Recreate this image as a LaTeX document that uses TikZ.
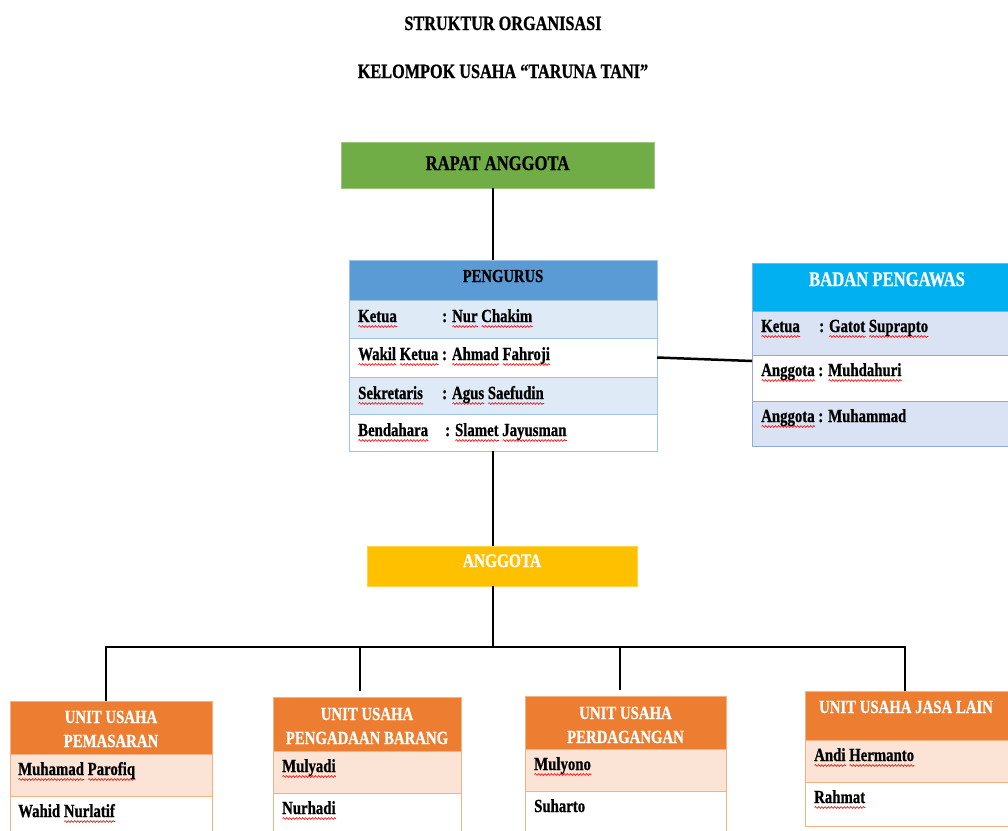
\documentclass[tikz,border=0pt]{standalone}
\usepackage{fontspec}
\setmainfont{Liberation Serif}[FakeStretch=0.8, BoldFeatures={FakeBold=0.8}]
\usetikzlibrary{calc,decorations.pathmorphing}
\definecolor{rapatc}{HTML}{70AD47}
\definecolor{pghc}{HTML}{5B9BD5}
\definecolor{pglt}{HTML}{DEEBF7}
\definecolor{pgbd}{HTML}{9DC3E6}
\definecolor{bphc}{HTML}{00B0F0}
\definecolor{bplt}{HTML}{DAE3F3}
\definecolor{bpbd}{HTML}{8FAADC}
\definecolor{angc}{HTML}{FFC000}
\definecolor{unhc}{HTML}{ED7D31}
\definecolor{unlt}{HTML}{FBE4D5}
\definecolor{unbd}{HTML}{F4B183}
\newdimen\sqwd
\newcommand\sq[1]{\setbox0=\hbox{#1}\sqwd=\wd0\rlap{\tikz[baseline=0pt,x=1pt,y=1pt]\draw[red, line width=0.6pt, decorate, decoration={snake, amplitude=0.9pt, segment length=3.2pt}] (0pt,-4.5pt) -- (\sqwd,-4.5pt);}#1}
\begin{document}
\begin{tikzpicture}[x=1pt,y=-1pt,
  boxx/.style={draw, line width=1pt, inner sep=0pt, outer sep=0pt, anchor=north west},
  ttl/.style={font=\bfseries\fontsize{20.3}{24}\selectfont, inner sep=0pt, anchor=base},
  rtxt/.style={font=\bfseries\fontsize{18.5}{22}\selectfont, inner sep=0pt, anchor=base west},
  htxt/.style={font=\bfseries\fontsize{18.5}{24}\selectfont, inner sep=0pt, anchor=base, align=center},
  conn/.style={line width=2.5pt, black}]
\useasboundingbox (0,0) rectangle (1008,830);
\clip (0,0) rectangle (1008,830);
\fill[white] (0,0) rectangle (1008,830);

% titles
\node[ttl] (t1) at (503,30) {STRUKTUR ORGANISASI};
\node[ttl] (t2) at (503,78) {KELOMPOK USAHA “TARUNA TANI”};

% rapat anggota
\node[boxx, fill=rapatc, draw=rapatc!70!white, minimum width=313pt, minimum height=46pt] (rapat) at (341,142) {};
\node[ttl, font=\bfseries\fontsize{20.8}{24}\selectfont] (rapatt) at ($(rapat.north)+(0,28)$) {RAPAT ANGGOTA};

% pengurus
\begin{scope}[every node/.append style={draw=pgbd}]
\node[boxx, fill=pghc, minimum width=308pt, minimum height=40pt] (pgh) at (349,260) {};
\node[boxx, fill=pglt, minimum width=308pt, minimum height=38pt] (pg1) at (349,300) {};
\node[boxx, fill=white, minimum width=308pt, minimum height=39pt] (pg2) at (349,338) {};
\node[boxx, fill=pglt, minimum width=308pt, minimum height=37pt] (pg3) at (349,377) {};
\node[boxx, fill=white, minimum width=308pt, minimum height=37pt] (pg4) at (349,414) {};
\end{scope}
\node[ttl, font=\bfseries\fontsize{18.3}{24}\selectfont] (pght) at ($(pgh.north)+(0,22)$) {PENGURUS};
\node[rtxt] (pg1t) at ($(pg1.north west)+(9,22)$) {\makebox[84pt][l]{\sq{Ketua}}: \sq{Nur} \sq{Chakim}};
\node[rtxt] (pg2t) at ($(pg2.north west)+(9,22)$) {\sq{Wakil} \sq{Ketua} : \sq{Ahmad} \sq{Fahroji}};
\node[rtxt] (pg3t) at ($(pg3.north west)+(9,22)$) {\makebox[84pt][l]{\sq{Sekretaris}}: \sq{Agus} \sq{Saefudin}};
\node[rtxt] (pg4t) at ($(pg4.north west)+(9,22)$) {\makebox[87pt][l]{\sq{Bendahara}}: \sq{Slamet} \sq{Jayusman}};

% badan pengawas
\begin{scope}[every node/.append style={draw=bpbd}]
\node[boxx, fill=bphc, minimum width=270pt, minimum height=48pt] (bph) at (752,263) {};
\node[boxx, fill=bplt, minimum width=270pt, minimum height=44pt] (bp1) at (752,311) {};
\node[boxx, fill=white, minimum width=270pt, minimum height=46pt] (bp2) at (752,355) {};
\node[boxx, fill=bplt, minimum width=270pt, minimum height=45pt] (bp3) at (752,401) {};
\end{scope}
\node[ttl, text=white, font=\bfseries\fontsize{20.8}{24}\selectfont] (bpht) at (887,286) {BADAN PENGAWAS};
\node[rtxt] (bp1t) at ($(bp1.north west)+(9,21)$) {\makebox[58pt][l]{\sq{Ketua}}: \sq{Gatot} \sq{Suprapto}};
\node[rtxt] (bp2t) at ($(bp2.north west)+(9,21)$) {\sq{Anggota} : \sq{Muhdahuri}};
\node[rtxt] (bp3t) at ($(bp3.north west)+(9,21)$) {\sq{Anggota} : Muhammad};

% anggota
\node[boxx, fill=angc, draw=angc!70!white, minimum width=270pt, minimum height=40pt] (ang) at (367,546) {};
\node[ttl, text=white, font=\bfseries\fontsize{19.2}{24}\selectfont] (angt) at ($(ang.north)+(0,21)$) {ANGGOTA};

% units
\begin{scope}[every node/.append style={draw=unbd}]
\node[boxx, fill=unhc, minimum width=202pt, minimum height=53pt] (u1h) at (10,701) {};
\node[boxx, fill=unlt, minimum width=202pt, minimum height=42pt] (u1a) at (10,754) {};
\node[boxx, fill=white, minimum width=202pt, minimum height=44pt] (u1b) at (10,796) {};
\node[boxx, fill=unhc, minimum width=188pt, minimum height=54pt] (u2h) at (273,697) {};
\node[boxx, fill=unlt, minimum width=188pt, minimum height=42pt] (u2a) at (273,751) {};
\node[boxx, fill=white, minimum width=188pt, minimum height=44pt] (u2b) at (273,793) {};
\node[boxx, fill=unhc, minimum width=201pt, minimum height=53pt] (u3h) at (525,696) {};
\node[boxx, fill=unlt, minimum width=201pt, minimum height=42pt] (u3a) at (525,749) {};
\node[boxx, fill=white, minimum width=201pt, minimum height=44pt] (u3b) at (525,791) {};
\node[boxx, fill=unhc, minimum width=210pt, minimum height=49pt] (u4h) at (805,691) {};
\node[boxx, fill=unlt, minimum width=210pt, minimum height=42pt] (u4a) at (805,740) {};
\node[boxx, fill=white, minimum width=210pt, minimum height=44pt] (u4b) at (805,782) {};
\end{scope}
\node[htxt, text=white] (u1t) at ($(u1h.north)+(0,46)$) {UNIT USAHA\\PEMASARAN};
\node[htxt, text=white] (u2t) at ($(u2h.north)+(0,47)$) {UNIT USAHA\\PENGADAAN BARANG};
\node[htxt, text=white] (u3t) at ($(u3h.north)+(0,47)$) {UNIT USAHA\\PERDAGANGAN};
\node[htxt, text=white] (u4t) at (906,713) {UNIT USAHA JASA LAIN};
\node[rtxt] (u1at) at ($(u1a.north west)+(8,21)$) {\sq{Muhamad} \sq{Parofiq}};
\node[rtxt] (u1bt) at ($(u1b.north west)+(8,21)$) {Wahid \sq{Nurlatif}};
\node[rtxt] (u2at) at ($(u2a.north west)+(9,21)$) {\sq{Mulyadi}};
\node[rtxt] (u2bt) at ($(u2b.north west)+(9,21)$) {\sq{Nurhadi}};
\node[rtxt] (u3at) at ($(u3a.north west)+(9,21)$) {\sq{Mulyono}};
\node[rtxt] (u3bt) at ($(u3b.north west)+(9,21)$) {Suharto};
\node[rtxt] (u4at) at ($(u4a.north west)+(9,21)$) {\sq{Andi} \sq{Hermanto}};
\node[rtxt] (u4bt) at ($(u4b.north west)+(9,21)$) {\sq{Rahmat}};

% connectors
\coordinate (spine) at (493,0);
\coordinate (bus) at (0,647);
\coordinate (d1) at (106,647);
\coordinate (d2) at (360,647);
\coordinate (d3) at (620,647);
\coordinate (d4) at (905,647);
\draw[conn] (rapat.south -| spine) -- (pgh.north -| spine);
\draw[conn] (pg4.south -| spine) -- (ang.north -| spine);
\draw[conn] (ang.south -| spine) -- (spine |- bus);
\draw[conn, line cap=rect] (d1) -- (d4);
\draw[conn] (d1) -- (d1 |- u1h.north);
\draw[conn] (d2) -- ($(d2 |- u2h.north)+(0,-6)$);
\draw[conn] (d3) -- ($(d3 |- u3h.north)+(0,-6)$);
\draw[conn] (d4) -- (d4 |- u4h.north);
\draw[conn] (pg2.east) -- ($(bp1.south west)+(0,6)$);
\end{tikzpicture}
\end{document}
